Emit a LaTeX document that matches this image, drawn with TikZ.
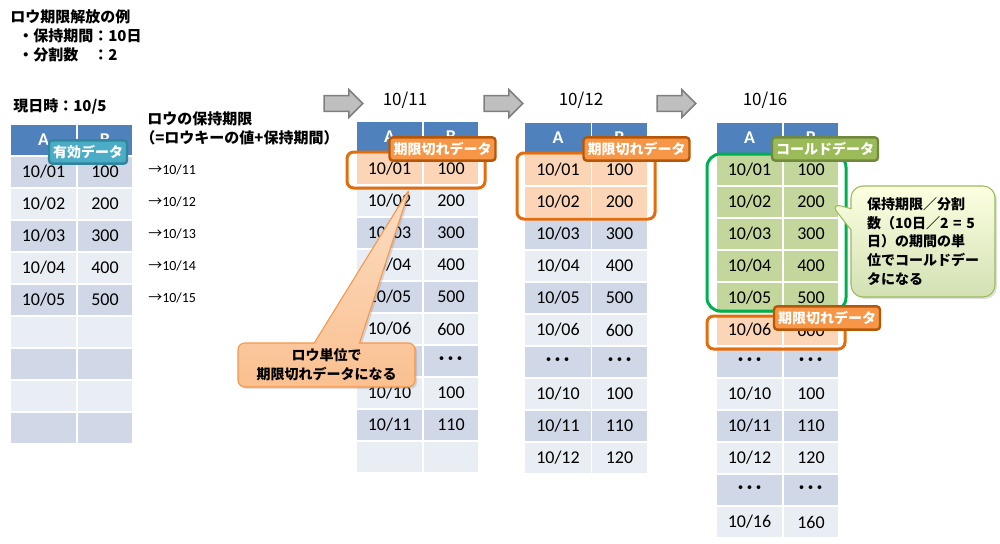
\documentclass[tikz,border=0pt]{standalone}
\usepackage{fontspec}
\setmainfont{Carlito}
\newfontfamily\jp{Noto Sans CJK JP}
\usetikzlibrary{shapes.arrows,shapes.callouts,shadows}
\definecolor{hdblue}{HTML}{4F81BD}
\definecolor{rowdark}{HTML}{D0D8E8}
\definecolor{rowlight}{HTML}{E9EDF4}
\definecolor{hotfill}{HTML}{FBD5B5}
\definecolor{coldfill}{HTML}{C3D69B}
\definecolor{hotline}{HTML}{E46C0A}
\definecolor{coldline}{HTML}{00B050}
\definecolor{tagorange}{HTML}{F79646}
\definecolor{tagorangeedge}{HTML}{B65708}
\definecolor{tagteal}{HTML}{4BACC6}
\definecolor{tagtealedge}{HTML}{31859C}
\definecolor{taggreen}{HTML}{9BBB59}
\definecolor{taggreenedge}{HTML}{71893F}
\definecolor{arrowgray}{HTML}{BFBFBF}
\definecolor{arrowedge}{HTML}{7F7F7F}
\newcommand{\rowdots}{{\jp\bfseries ･･･}}

\begin{document}
\begin{tikzpicture}[x=0.75pt, y=-0.75pt]
\tikzset{cell/.style={minimum width=50.25pt, minimum height=24pt, inner sep=0pt, draw=white, line width=0.9pt, font=\fontsize{13.5}{16}\selectfont},
  colb/.style={minimum width=42pt},
  hdr/.style={cell, fill=hdblue, text=white, font=\fontsize{13.5}{16}\selectfont\bfseries},
  odd/.style={cell, fill=rowdark}, even/.style={cell, fill=rowlight},
  hot/.style={cell, fill=hotfill}, cold/.style={cell, fill=coldfill},
  tag/.style={rounded corners=2.5pt, line width=1.8pt, text=white, inner xsep=3pt, inner ysep=0pt, minimum height=17.5pt, font=\jp\fontsize{10.5}{12}\selectfont\bfseries},
  jptext/.style={anchor=west, inner sep=0pt, font=\jp\fontsize{11.25}{14}\selectfont\bfseries},
  bigarrow/.style={single arrow, fill=arrowgray, draw=arrowedge, line width=1.1pt, minimum height=29pt, inner xsep=0pt, inner ysep=5.3pt, single arrow head extend=4.5pt},
  hotbox/.style={draw=hotline, line width=2.25pt, rounded corners=5pt}}
\useasboundingbox (0,0) rectangle (1000,543);

% heading
\node[jptext] (title) at (10,17) {ロウ期限解放の例};
\node[jptext] (keep) at (18,36) {・保持期間：10日};
\node[jptext] (split) at (18,55) {・分割数　：2};
\node[jptext] (now) at (13,106) {現日時：10/5};
\node[jptext] (lim1) at (147,119) {ロウの保持期限};
\node[jptext] (lim2) at (140,138) {（=ロウキーの値+保持期間）};
\foreach \d [count=\i] in {11,...,15}
  \node[anchor=west, inner sep=0pt, font=\fontsize{10.5}{12}\selectfont] (exp\i) at (148,138+32*\i) {{\jp →}10/\d};

% table 1
\node[hdr] (t1ah) at (43.5,140) {A};
\node[hdr, colb] (t1bh) at (105,140) {B};
\foreach \a/\b/\s [count=\i] in {{10/01}/100/odd, {10/02}/200/even, {10/03}/300/odd, {10/04}/400/even, {10/05}/500/odd, {}/{}/even, {}/{}/odd, {}/{}/even, {}/{}/odd}
  { \node[\s] (t1a\i) at (43.5,140+32*\i) {\a};
    \node[\s, colb] (t1b\i) at (105,140+32*\i) {\b}; }

% table 2
\node[jptext, anchor=center, font=\jp\fontsize{12.75}{14}\selectfont] (d2) at (405,100) {10/11};
\node[hdr] (t2ah) at (389.5,137) {A};
\node[hdr, colb] (t2bh) at (451,137) {B};
\foreach \a/\b/\s [count=\i] in {{10/01}/100/hot, {10/02}/200/even, {10/03}/300/odd, {10/04}/400/even, {10/05}/500/odd, {10/06}/600/even, \rowdots/\rowdots/odd, {10/10}/100/even, {10/11}/110/odd, {}/{}/even}
  { \node[\s] (t2a\i) at (389.5,137+32*\i) {\a};
    \node[\s, colb] (t2b\i) at (451,137+32*\i) {\b}; }

% table 3
\node[jptext, anchor=center, font=\jp\fontsize{12.75}{14}\selectfont] (d3) at (581,100) {10/12};
\node[hdr] (t3ah) at (558,138) {A};
\node[hdr, colb] (t3bh) at (619.5,138) {B};
\foreach \a/\b/\s [count=\i] in {{10/01}/100/hot, {10/02}/200/hot, {10/03}/300/odd, {10/04}/400/even, {10/05}/500/odd, {10/06}/600/even, \rowdots/\rowdots/odd, {10/10}/100/even, {10/11}/110/odd, {10/12}/120/even}
  { \node[\s] (t3a\i) at (558,138+32*\i) {\a};
    \node[\s, colb] (t3b\i) at (619.5,138+32*\i) {\b}; }

% table 4
\node[jptext, anchor=center, font=\jp\fontsize{12.75}{14}\selectfont] (d4) at (765,100) {10/16};
\node[hdr] (t4ah) at (749.5,138) {A};
\node[hdr, colb] (t4bh) at (811,138) {B};
\foreach \a/\b/\s [count=\i] in {{10/01}/100/cold, {10/02}/200/cold, {10/03}/300/cold, {10/04}/400/cold, {10/05}/500/cold, {10/06}/600/hot, \rowdots/\rowdots/odd, {10/10}/100/even, {10/11}/110/odd, {10/12}/120/even, \rowdots/\rowdots/odd, {10/16}/160/even}
  { \node[\s] (t4a\i) at (749.5,138+32*\i) {\a};
    \node[\s, colb] (t4b\i) at (811,138+32*\i) {\b}; }

% arrows between tables
\node[bigarrow] (ar1) at (339.5,103.5) {};
\node[bigarrow] (ar2) at (499.5,103.5) {};
\node[bigarrow] (ar3) at (672.5,103.5) {};

% outlines
\draw[hotbox] (347,152) rectangle (485,188);
\draw[hotbox] (517,153) rectangle (655,219);
\draw[draw=coldline, line width=2.25pt, rounded corners=10pt] (707,154) rectangle (846,311);
\draw[hotbox] (707,316) rectangle (845,349);

% tags
\node[tag, fill=tagteal, draw=tagtealedge] (valid) at (88,152) {有効データ};
\node[tag, fill=tagorange, draw=tagorangeedge] (exp2) at (442.5,149) {期限切れデータ};
\node[tag, fill=tagorange, draw=tagorangeedge] (exp3) at (636.5,149) {期限切れデータ};
\node[tag, fill=taggreen, draw=taggreenedge] (cold4) at (825,149) {コールドデータ};
\node[tag, fill=tagorange, draw=tagorangeedge] (exp4) at (827,318) {期限切れデータ};

% callouts
\node[rectangle callout, callout absolute pointer={(410,188)}, callout pointer width=34pt,
  rounded corners=5pt, top color=hotfill!80!white, bottom color=tagorange!60!white, draw=tagorange, line width=0.8pt,
  drop shadow={opacity=0.25, shadow xshift=1.5pt, shadow yshift=-1.5pt},
  minimum width=132.75pt, minimum height=33pt, align=center, font=\jp\fontsize{10.5}{14.25}\selectfont\bfseries] (rowcall) at (326.5,365) {ロウ単位で\\期限切れデータになる};
\node[rectangle callout, callout absolute pointer={(830,203)}, callout pointer width=16pt,
  rounded corners=9pt, top color=green!8!yellow!12!white, bottom color=taggreen!45!white, draw=taggreen, line width=0.8pt,
  drop shadow={opacity=0.25, shadow xshift=1.5pt, shadow yshift=-1.5pt},
  minimum width=108pt, minimum height=83.25pt, text width=84pt, align=left, font=\jp\fontsize{10.5}{14}\selectfont\bfseries] (coldcall) at (923,241.5) {保持期限／分割\\数（10日／2 = 5\\日）の期間の単\\位でコールドデー\\タになる};
\end{tikzpicture}
\end{document}
